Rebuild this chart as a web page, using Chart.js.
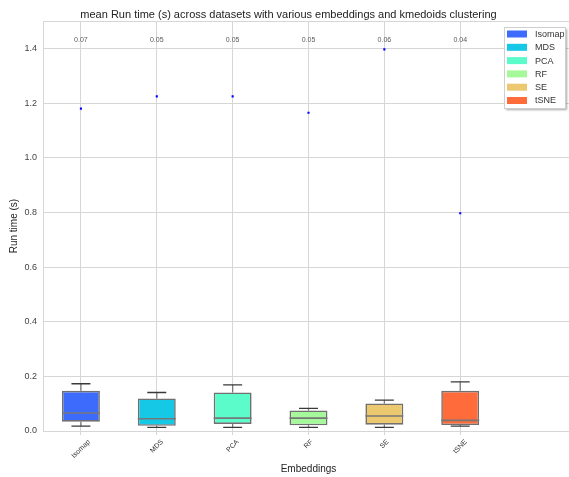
<!DOCTYPE html>
<html>
<head>
<meta charset="utf-8">
<script src="https://cdn.jsdelivr.net/npm/chart.js@4.4.1/dist/chart.umd.min.js"></script>
<style>
  html, body { margin: 0; padding: 0; background: #fff; overflow: hidden; }
  #wrap { position: relative; width: 578px; height: 477px; }
</style>
</head>
<body>
<div id="wrap"><canvas id="grafico"></canvas></div>
<script>
// categorias y valores de cada caja (en segundos)
const embeddings = ["Isomap", "MDS", "PCA", "RF", "SE", "tSNE"];
const colores = ["#3d6cfd", "#14c8e6", "#5cfbca", "#a5f99b", "#ecc871", "#ff6b3b"];
const bigoteBajo = [0.018, 0.013, 0.013, 0.013, 0.013, 0.018];
const q1 = [0.034, 0.019, 0.026, 0.021, 0.023, 0.022];
const mediana = [0.066, 0.045, 0.047, 0.047, 0.055, 0.039];
const q3 = [0.147, 0.119, 0.141, 0.075, 0.101, 0.147];
const bigoteAlto = [0.173, 0.141, 0.169, 0.083, 0.113, 0.180];
const atipicos = [1.18, 1.225, 1.225, 1.165, 1.397, 0.797];
const medias = ["0.07", "0.05", "0.05", "0.05", "0.06", "0.04"];
const yTicks = [0, 0.2, 0.4, 0.6, 0.8, 1.0, 1.2, 1.4];
const yMax = 1.5;
const alturaMedias = 1.43;

// una categoria vacia al final para dejar espacio a la derecha
const etiquetas = embeddings.concat([""]);
const fuente = "'Liberation Sans', Arial, sans-serif";

// bigotes, medianas, textos de la media y etiquetas del eje x
const cajasPlugin = {
  id: "cajas",
  afterDatasetsDraw(chart) {
    const ctx = chart.ctx;
    const x = chart.scales.x;
    const y = chart.scales.y;
    const ancho = x.getPixelForValue(1) - x.getPixelForValue(0);
    ctx.save();
    embeddings.forEach((e, i) => {
      const cx = x.getPixelForValue(i);
      // lineas verticales
      ctx.strokeStyle = "#7a7a7a";
      ctx.lineWidth = 1.3;
      ctx.beginPath();
      ctx.moveTo(cx, y.getPixelForValue(q3[i]));
      ctx.lineTo(cx, y.getPixelForValue(bigoteAlto[i]));
      ctx.moveTo(cx, y.getPixelForValue(q1[i]));
      ctx.lineTo(cx, y.getPixelForValue(bigoteBajo[i]));
      ctx.stroke();
      // topes
      ctx.strokeStyle = "#3a3a3a";
      ctx.beginPath();
      const w = ancho * 0.125;
      ctx.moveTo(cx - w, y.getPixelForValue(bigoteAlto[i]));
      ctx.lineTo(cx + w, y.getPixelForValue(bigoteAlto[i]));
      ctx.moveTo(cx - w, y.getPixelForValue(bigoteBajo[i]));
      ctx.lineTo(cx + w, y.getPixelForValue(bigoteBajo[i]));
      ctx.stroke();
      // mediana
      ctx.strokeStyle = "#777";
      ctx.lineWidth = 1.6;
      ctx.beginPath();
      ctx.moveTo(cx - ancho * 0.25, y.getPixelForValue(mediana[i]));
      ctx.lineTo(cx + ancho * 0.25, y.getPixelForValue(mediana[i]));
      ctx.stroke();
      // texto de la media
      ctx.fillStyle = "#5a5a5a";
      ctx.font = "7px " + fuente;
      ctx.textAlign = "center";
      ctx.textBaseline = "middle";
      ctx.fillText(medias[i], cx, y.getPixelForValue(alturaMedias));
      // etiqueta girada 45 grados, centrada bajo la marca
      ctx.fillStyle = "#333";
      ctx.font = "7px " + fuente;
      const tw = ctx.measureText(e).width;
      const lado = (tw + 8) * Math.SQRT1_2;
      ctx.save();
      ctx.translate(cx, x.top + 7 + lado / 2);
      ctx.rotate(-Math.PI / 4);
      ctx.fillText(e, 0, 0);
      ctx.restore();
    });
    ctx.restore();
  }
};

// leyenda dentro del area del grafico, arriba a la derecha
const leyendaPlugin = {
  id: "leyenda",
  afterDraw(chart) {
    const ctx = chart.ctx;
    const x0 = 504, y0 = 27, w = 61, h = 81;
    ctx.save();
    ctx.shadowColor = "rgba(0,0,0,0.35)";
    ctx.shadowOffsetX = 2;
    ctx.shadowOffsetY = 2;
    ctx.shadowBlur = 2;
    ctx.fillStyle = "#fff";
    ctx.fillRect(x0, y0, w, h);
    ctx.shadowColor = "transparent";
    ctx.strokeStyle = "#cfcfcf";
    ctx.lineWidth = 1;
    ctx.strokeRect(x0 + 0.5, y0 + 0.5, w, h);
    ctx.font = "9px " + fuente;
    ctx.textBaseline = "middle";
    ctx.textAlign = "left";
    embeddings.forEach((e, i) => {
      const cy = y0 + 7 + i * 13.3;
      ctx.fillStyle = colores[i];
      ctx.fillRect(x0 + 3, cy - 3.5, 20, 7);
      ctx.fillStyle = "#333";
      ctx.fillText(e, x0 + 31, cy + 0.5);
    });
    ctx.restore();
  }
};

const config = {
  type: "bar",
  data: {
    labels: etiquetas,
    datasets: [
      {
        label: "cajas",
        data: q1.map((v, i) => [v, q3[i]]),
        backgroundColor: colores,
        borderColor: "#707070",
        borderWidth: 1.6,
        borderSkipped: false,
        barPercentage: 0.5,
        categoryPercentage: 1,
        order: 2
      },
      {
        type: "line",
        label: "atipicos",
        data: atipicos,
        showLine: false,
        pointStyle: "rect",
        pointRadius: 1.5,
        pointBackgroundColor: "#0000ff",
        pointBorderWidth: 0,
        order: 1
      }
    ]
  },
  options: {
    responsive: true,
    maintainAspectRatio: false,
    animation: false,
    layout: { padding: { top: 0, right: 1, left: 0, bottom: 0 } },
    plugins: {
      legend: { display: false },
      tooltip: { enabled: false },
      title: {
        display: true,
        text: "mean Run time (s) across datasets with various embeddings and kmedoids clustering",
        color: "#222",
        font: { family: fuente, size: 11, weight: "normal" },
        padding: { top: 8, bottom: 0 }
      }
    },
    scales: {
      x: {
        offset: true,
        grid: {
          offset: false,
          color: (c) => (c.index === 6 ? "rgba(0,0,0,0)" : "#d6d6d6"),
          tickLength: 4,
          lineWidth: 1
        },
        border: { color: "#d6d6d6" },
        ticks: { display: false },
        afterFit: (scale) => { scale.height = 46; },
        title: {
          display: true,
          text: "Embeddings",
          color: "#222",
          font: { family: fuente, size: 10 },
          padding: { top: 0, bottom: 2 }
        }
      },
      y: {
        min: 0,
        max: yMax,
        afterBuildTicks: (scale) => {
          scale.ticks = yTicks.concat([yMax]).map((v) => ({ value: v }));
        },
        afterFit: (scale) => { scale.width = 43; },
        grid: { color: "#d6d6d6", drawTicks: false, lineWidth: 1 },
        border: { color: "#d6d6d6" },
        ticks: {
          color: "#444",
          padding: 6,
          font: { family: fuente, size: 9 },
          callback: (v) => (v === yMax ? "" : Number(v).toFixed(1))
        },
        title: {
          display: true,
          text: "Run time (s)",
          color: "#222",
          font: { family: fuente, size: 10 },
          padding: { top: 8, bottom: 0 }
        }
      }
    }
  },
  plugins: [cajasPlugin, leyendaPlugin]
};

new Chart(document.getElementById("grafico").getContext("2d"), config);
</script>
</body>
</html>
